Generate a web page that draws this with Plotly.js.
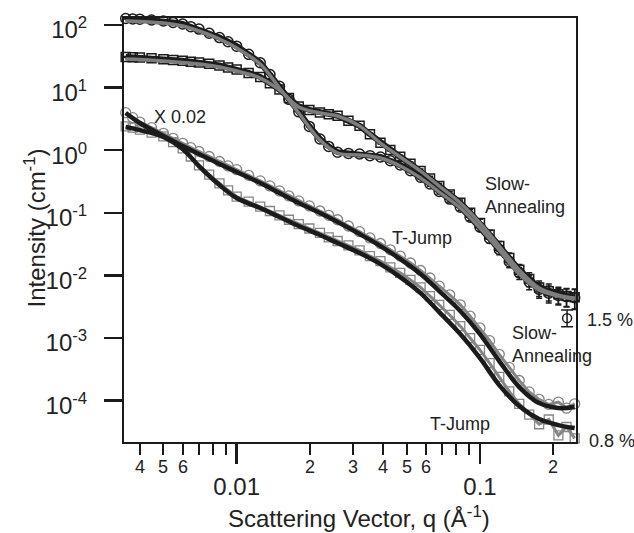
<!DOCTYPE html>
<html><head><meta charset="utf-8">
<script src="https://cdn.plot.ly/plotly-3.0.1.min.js"></script>
<style>html,body{margin:0;padding:0;background:#fff;}#chart{width:634px;height:533px;}</style>
</head><body><div id="chart"></div>
<script>
// q grid for model fits (1/Å)
const qFit = [0.0035,0.004,0.005,0.006,0.007,0.0085,0.01,0.0125,0.015,0.018,0.022,0.026,0.032,0.039,0.047,0.057,0.068,0.083,0.1,0.12,0.145,0.175,0.21,0.245];
// 1.5 % samples (cm^-1)
const fitHiCirc = [115.9,113.7,107.6,96.4,80.2,59.8,42.9,23.8,9.85,3.93,1.455,0.902,0.838,0.750,0.559,0.3597,0.2149,0.1193,0.0572,0.02545,0.01053,0.00585,0.00469,0.0042];
const fitHiSq   = [28.6,28.1,26.6,25.2,23.8,21.3,18.4,14.2,9.16,4.90,3.93,3.52,2.44,1.303,0.779,0.465,0.268,0.1434,0.0687,0.0295,0.0122,0.00629,0.00486,0.00436];
// 0.8 % samples (x 0.02)
const fitLoCirc = [3.93,2.72,1.686,1.167,0.870,0.602,0.4485,0.2992,0.2072,0.1434,0.0993,0.0713,0.0459,0.0295,0.01828,0.01053,0.00563,0.0027,0.001158,0.000429,0.000165,9.15e-5,7.62e-5,7.91e-5];
const fitLoSq   = [2.35,2.10,1.625,1.045,0.559,0.278,0.1723,0.1193,0.0857,0.0615,0.0442,0.0329,0.0228,0.0152,0.00943,0.00523,0.0026,0.001158,0.000479,0.0001775,8.2e-5,5.08e-5,4.07e-5,3.65e-5];

// measured data q
const qData = [0.0035,0.00374,0.004,0.00447,0.005,0.00548,0.006,0.00648,0.007,0.00771,0.0085,0.00922,0.01,0.0112,0.0125,0.0137,0.015,0.0164,0.018,0.0199,0.022,0.0239,0.026,0.0288,0.032,0.0353,0.039,0.0428,0.047,0.0518,0.057,0.0623,0.068,0.0751,0.083,0.0911,0.1,0.1095,0.12,0.1319,0.145,0.1593,0.175,0.1917,0.21,0.2268,0.245];
const dataHiCirc = [127,125,124,120,116,110,104,94,86,74,63,54,46,34,25,16.2,10.5,6.5,4.1,2.4,1.51,1.15,0.93,0.89,0.87,0.82,0.78,0.68,0.58,0.47,0.37,0.29,0.22,0.166,0.123,0.085,0.059,0.039,0.026,0.0166,0.011,0.0079,0.0060,0.0052,0.0048,0.0046,0.0044];
const dataHiSq = [30.9,30.5,30.2,29.5,28.5,27.5,26.9,26.0,25.1,24.0,22.6,20.9,19.5,17.2,14.8,11.7,9.3,6.8,5.0,4.4,4.0,3.76,3.55,2.95,2.45,1.8,1.32,1.01,0.785,0.61,0.468,0.355,0.269,0.197,0.145,0.1,0.069,0.0452,0.0295,0.019,0.0123,0.0088,0.0064,0.0056,0.0050,0.0047,0.0045];
const errRelHi = [0.02,0.02,0.02,0.02,0.02,0.02,0.02,0.02,0.02,0.02,0.02,0.02,0.03,0.03,0.03,0.03,0.03,0.03,0.03,0.03,0.03,0.03,0.03,0.04,0.04,0.04,0.05,0.05,0.06,0.06,0.07,0.08,0.09,0.1,0.11,0.12,0.14,0.16,0.18,0.2,0.22,0.25,0.28,0.3,0.3,0.32,0.35];
const dataLoCirc = [3.98,3.31,2.82,2.29,1.86,1.55,1.29,1.10,0.955,0.794,0.661,0.562,0.49,0.398,0.324,0.269,0.224,0.186,0.155,0.129,0.107,0.0912,0.0776,0.0617,0.0501,0.0398,0.0324,0.0257,0.0204,0.0158,0.0120,0.0091,0.00676,0.0049,0.00339,0.00224,0.00145,0.00091,0.00055,0.00034,0.00021,0.000138,0.000105,8.7e-5,9.5e-5,7.6e-5,8.9e-5];
const dataLoSq = [2.40,2.29,2.14,1.91,1.66,1.35,1.07,0.794,0.575,0.407,0.295,0.229,0.182,0.151,0.126,0.107,0.0912,0.0776,0.0661,0.0562,0.0479,0.0407,0.0355,0.0302,0.0251,0.0204,0.0170,0.0135,0.011,0.0085,0.00646,0.00468,0.00339,0.00234,0.00155,0.001,0.000646,0.000398,0.00024,0.000141,8.9e-5,6.0e-5,4.2e-5,5.0e-5,2.8e-5,3.8e-5,2.5e-5];
// single high-q point with error bar (1.5 %)
const qBg = [0.228];
const iBg = [0.00208];
const errBgPlus = [0.00072];
const errBgMinus = [0.00057];

const xMajorVals = [0.01,0.1];
const xMajorText = ['0.01','0.1'];
const xMinorVals = [0.004,0.005,0.006,0.007,0.008,0.009,0.02,0.03,0.04,0.05,0.06,0.07,0.08,0.09,0.2];
const xMinorLabelVals = [0.004,0.005,0.006,0.02,0.03,0.04,0.05,0.06,0.2];
const xMinorLabelText = ['4','5','6','2','3','4','5','6','2'];
const yTickVals = [1e-4,1e-3,1e-2,1e-1,1,10,100];
const yTickText = ['10<sup>-4</sup>','10<sup>-3</sup>','10<sup>-2</sup>','10<sup>-1</sup>','10<sup>0</sup>','10<sup>1</sup>','10<sup>2</sup>'];

const FONT = 'Liberation Sans, Arial, Helvetica, sans-serif';
const TXT = '#222';
const BLK = '#1b1b1b';
const GRY = '#858585';

const traces = [
  // 0.8 % data (grey open symbols)
  {x: qData, y: dataLoCirc, mode:'lines+markers', type:'scatter', cliponaxis:false,
   line:{color:GRY, width:3},
   marker:{symbol:'circle-open', size:10, color:GRY, line:{width:1.3, color:GRY}}},
  {x: qData, y: dataLoSq, mode:'lines+markers', type:'scatter', cliponaxis:false,
   line:{color:GRY, width:3},
   marker:{symbol:'square-open', size:9, color:GRY, line:{width:1.3, color:GRY}}},
  // 0.8 % fits (black)
  {x: qFit, y: fitLoCirc, mode:'lines', line:{color:BLK, width:4.5, shape:'spline'}},
  {x: qFit, y: fitLoSq, mode:'lines', line:{color:BLK, width:4.5, shape:'spline'}},
  // 1.5 % data (black symbols with error bars)
  {x: qData, y: dataHiCirc, mode:'lines+markers', type:'scatter', cliponaxis:false,
   line:{color:BLK, width:6},
   marker:{symbol:'circle-open', size:10, color:BLK, line:{width:1.5, color:BLK}},
   error_y:{type:'data', array: dataHiCirc.map((v,i)=>v*errRelHi[i]), color:BLK, thickness:1.5, width:3}},
  {x: qData, y: dataHiSq, mode:'lines+markers', type:'scatter', cliponaxis:false,
   line:{color:BLK, width:6},
   marker:{symbol:'square-open', size:9, color:BLK, line:{width:1.5, color:BLK}},
   error_y:{type:'data', array: dataHiSq.map((v,i)=>v*errRelHi[i]), color:BLK, thickness:1.5, width:3}},
  {x: qBg, y: iBg, mode:'markers', type:'scatter',
   marker:{symbol:'circle-open', size:9, color:BLK, line:{width:1.5, color:BLK}},
   error_y:{type:'data', symmetric:false, array: errBgPlus, arrayminus: errBgMinus, color:BLK, thickness:1.5, width:6}},
  // 1.5 % fits (grey)
  {x: qFit, y: fitHiCirc, mode:'lines', line:{color:'#7d7d7d', width:3.5, shape:'spline'}},
  {x: qFit, y: fitHiSq, mode:'lines', line:{color:'#7d7d7d', width:3.5, shape:'spline'}}
];

const ann = [];
function txt(text, x, y, opts) {
  ann.push(Object.assign({text:text, x:x, y:y, xref:'paper', yref:'paper', showarrow:false,
    xanchor:'left', yanchor:'middle', align:'left', font:{family:FONT, size:18, color:TXT}}, opts||{}));
}
txt('X 0.02', 0.0619, 0.7665);
txt('Slow-<br>Annealing', 0.7942, 0.5802);
txt('T-Jump', 0.5885, 0.48);
txt('1.5 %', 1.0199, 0.2877);
txt('Slow-<br>Annealing', 0.854, 0.2311);
txt('T-Jump', 0.6726, 0.0413);
txt('0.8 %', 1.0243, 0.0024);
xMinorLabelVals.forEach((v,i)=>{
  ann.push({text:xMinorLabelText[i], x:Math.log10(v), xref:'x', y:-0.059, yref:'paper', showarrow:false,
    xanchor:'center', yanchor:'middle', font:{family:FONT, size:18, color:TXT}});
});
ann.push({text:'Scattering Vector, q (Å<sup>-1</sup>)', x:0.521, y:-0.178, xref:'paper', yref:'paper',
  showarrow:false, xanchor:'center', yanchor:'middle', font:{family:FONT, size:24, color:TXT}});
ann.push({text:'Intensity (cm<sup>-1</sup>)', x:-0.197, y:0.506, xref:'paper', yref:'paper', textangle:-90,
  showarrow:false, xanchor:'center', yanchor:'middle', font:{family:FONT, size:24, color:TXT}});

const layout = {
  width:634, height:533,
  margin:{l:124, r:58, t:18, b:91, pad:0},
  paper_bgcolor:'#fff', plot_bgcolor:'#fff',
  showlegend:false,
  font:{family:FONT, color:TXT},
  xaxis:{type:'log', range:[-2.463,-0.6054], showgrid:false, zeroline:false,
    showline:true, linecolor:BLK, linewidth:2, mirror:true,
    ticks:'outside', tickmode:'array', tickvals:xMajorVals, ticktext:xMajorText,
    ticklen:20, tickwidth:2.5, tickcolor:BLK, tickfont:{family:FONT, size:24, color:TXT},
    ticklabelstandoff:2,
    minor:{tickmode:'array', tickvals:xMinorVals, ticks:'outside', ticklen:11, tickwidth:2, tickcolor:BLK, showgrid:false}},
  yaxis:{type:'log', range:[-4.66,2.112], showgrid:false, zeroline:false,
    showline:true, linecolor:BLK, linewidth:2, mirror:true,
    ticks:'outside', tickmode:'array', tickvals:yTickVals, ticktext:yTickText,
    ticklen:18, tickwidth:2.5, tickcolor:BLK, tickfont:{family:FONT, size:24, color:TXT},
    ticklabelstandoff:12, ticklabelshift:5},
  annotations: ann
};

Plotly.newPlot('chart', traces, layout, {displayModeBar:false, staticPlot:true});
</script></body></html>
